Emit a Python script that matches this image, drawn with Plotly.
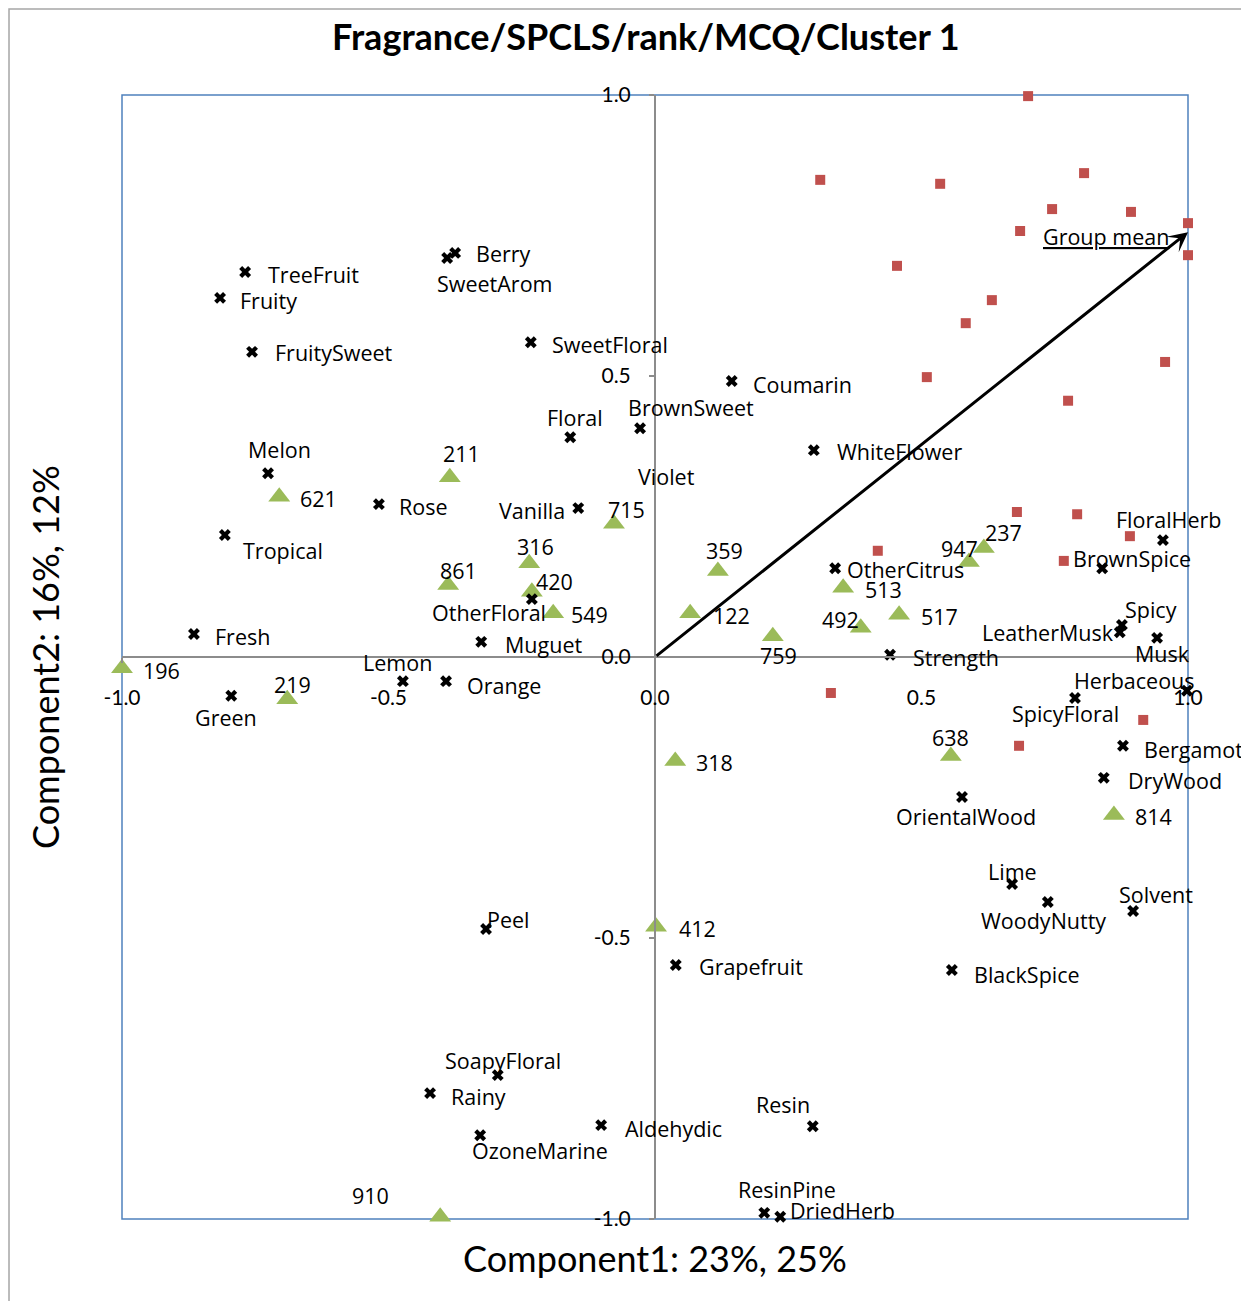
import plotly.graph_objects as go

# ---------------- data ----------------
feature_names = ["TreeFruit", "Fruity", "FruitySweet", "Berry", "SweetArom", "SweetFloral",
                 "Floral", "BrownSweet", "Coumarin", "WhiteFlower", "Melon", "Rose",
                 "Tropical", "Vanilla", "OtherFloral", "Fresh", "Muguet", "Lemon", "Orange",
                 "Green", "OtherCitrus", "Strength", "FloralHerb", "BrownSpice", "Spicy",
                 "LeatherMusk", "Musk", "Herbaceous", "SpicyFloral", "Bergamot", "DryWood",
                 "OrientalWood", "Lime", "WoodyNutty", "Solvent", "BlackSpice", "Peel",
                 "Grapefruit", "SoapyFloral", "Rainy", "OzoneMarine", "Aldehydic", "Resin",
                 "ResinPine", "DriedHerb"]
feature_x = [-0.769, -0.816, -0.756, -0.375, -0.390, -0.233, -0.159, -0.028, 0.144, 0.298,
             -0.726, -0.518, -0.807, -0.144, -0.231, -0.865, -0.326, -0.473, -0.392, -0.795,
             0.338, 0.441, 0.953, 0.839, 0.876, 0.872, 0.942, 0.998, 0.788, 0.878, 0.842,
             0.576, 0.670, 0.737, 0.897, 0.557, -0.317, 0.039, -0.295, -0.422, -0.328,
             -0.101, 0.296, 0.205, 0.235]
feature_y = [0.685, 0.639, 0.543, 0.719, 0.710, 0.560, 0.391, 0.407, 0.491, 0.368,
             0.327, 0.272, 0.217, 0.265, 0.103, 0.041, 0.027, -0.043, -0.043, -0.069,
             0.158, 0.004, 0.208, 0.158, 0.057, 0.044, 0.034, -0.060, -0.073, -0.158, -0.215,
             -0.249, -0.404, -0.436, -0.452, -0.557, -0.484, -0.548, -0.744, -0.776, -0.851,
             -0.833, -0.835, -0.989, -0.996]

# label shown without a visible marker
violet_name = "Violet"
violet_x = 0.021
violet_y = 0.322

consumer_ids = ["211", "621", "715", "316", "861", "420", "549", "359", "122", "759",
                "513", "492", "517", "947", "237", "196", "219", "318", "638", "814",
                "412", "910"]
consumer_x = [-0.385, -0.705, -0.077, -0.236, -0.388, -0.231, -0.191, 0.118, 0.066, 0.221,
              0.353, 0.386, 0.458, 0.589, 0.617, -1.0, -0.690, 0.038, 0.555, 0.861,
              0.002, -0.403]
consumer_y = [0.320, 0.285, 0.237, 0.167, 0.128, 0.116, 0.078, 0.153, 0.078, 0.037,
              0.123, 0.052, 0.075, 0.169, 0.194, -0.020, -0.075, -0.185, -0.176, -0.281,
              -0.480, -0.996]

product_x = [0.700, 0.310, 0.535, 0.805, 0.745, 0.893, 1.000, 0.685, 1.000, 0.454, 0.632,
             0.583, 0.957, 0.510, 0.775, 0.679, 0.792, 0.891, 0.418, 0.767, 0.330, 0.916,
             0.683]
product_y = [0.998, 0.849, 0.842, 0.861, 0.797, 0.792, 0.772, 0.758, 0.715, 0.696, 0.635,
             0.594, 0.525, 0.498, 0.456, 0.258, 0.254, 0.215, 0.189, 0.171, -0.064, -0.112,
             -0.158]

group_mean_label = "Group mean"
group_mean_x = 1.0
group_mean_y = 0.756

axis_ticks = [-1.0, -0.5, 0.0, 0.5, 1.0]
axis_tick_text = ["-1.0", "-0.5", "0.0", "0.5", "1.0"]

title_text = "Fragrance/SPCLS/rank/MCQ/Cluster 1"
x_title = "Component1: 23%, 25%"
y_title = "Component2: 16%, 12%"

# ---------------- styles / label placement (pixel shifts) ----------------
FEATURE_SHIFT = {
    "TreeFruit": (68, -2), "Fruity": (48, -3), "FruitySweet": (82, -1), "Berry": (48, -1),
    "SweetArom": (47, -26), "SweetFloral": (79, -2), "Floral": (5, 20), "BrownSweet": (51, 21),
    "Coumarin": (71, -3), "WhiteFlower": (86, -1), "Melon": (11, 24), "Rose": (45, -2),
    "Tropical": (58, -15), "Vanilla": (-46, -2), "OtherFloral": (-43, -13), "Fresh": (49, -3),
    "Muguet": (62, -3), "Lemon": (-5, 19), "Orange": (58, -4), "Green": (-5, -22),
    "OtherCitrus": (70, -1), "Strength": (66, -3), "FloralHerb": (6, 21), "BrownSpice": (30, 10),
    "Spicy": (29, 15), "LeatherMusk": (-72, 0), "Musk": (5, -16), "Herbaceous": (-52, 10),
    "SpicyFloral": (-10, -15), "Bergamot": (71, -4), "DryWood": (71, -3),
    "OrientalWood": (4, -20), "Lime": (0, 13), "WoodyNutty": (-4, -18), "Solvent": (23, 17),
    "BlackSpice": (75, -4), "Peel": (22, 10), "Grapefruit": (75, -2), "SoapyFloral": (5, 15),
    "Rainy": (48, -3), "OzoneMarine": (60, -15), "Aldehydic": (72, -3), "Resin": (-30, 22),
    "ResinPine": (23, 23), "DriedHerb": (62, 6),
}
CONSUMER_SHIFT = {
    "211": (12, 24), "621": (39, -2), "715": (13, 14), "316": (6, 17), "861": (10, 15),
    "420": (23, 10), "549": (36, -1), "359": (7, 21), "122": (41, -2), "759": (6, -19),
    "513": (40, -2), "492": (-20, 8), "517": (40, -2), "947": (-9, 14), "237": (20, 15),
    "196": (39, -2), "219": (5, 15), "318": (39, -2), "638": (0, 18), "814": (40, -2),
    "412": (41, -2), "910": (-70, 21),
}

LABEL_FONT = dict(family="Open Sans, Noto Sans, sans-serif", size=21.5, color="black")
TICK_FONT = dict(family="Lato, Noto Sans, sans-serif", size=21, color="black")
GREEN = "#9BBB59"
RED = "#C0504D"
BLUE = "#4F81BD"
GRAY = "#8C8C8C"

fig = go.Figure()

fig.add_trace(go.Scatter(
    x=product_x, y=product_y, mode="markers",
    marker=dict(symbol="square", size=10, color=RED),
    cliponaxis=False, showlegend=False, hoverinfo="skip"))

fig.add_trace(go.Scatter(
    x=consumer_x, y=consumer_y, mode="markers",
    marker=dict(symbol="triangle-up", size=19, color=GREEN),
    cliponaxis=False, showlegend=False, text=consumer_ids))

fig.add_trace(go.Scatter(
    x=feature_x, y=feature_y, mode="markers",
    marker=dict(symbol="x", size=10.5, color="black", line=dict(width=0)),
    cliponaxis=False, showlegend=False, text=feature_names))

annotations = []
for n, xv, yv in zip(feature_names, feature_x, feature_y):
    dx, dy = FEATURE_SHIFT[n]
    annotations.append(dict(x=xv, y=yv, xref="x", yref="y", text=n, showarrow=False,
                            xshift=dx, yshift=dy, font=LABEL_FONT))
for n, xv, yv in zip(consumer_ids, consumer_x, consumer_y):
    dx, dy = CONSUMER_SHIFT[n]
    annotations.append(dict(x=xv, y=yv, xref="x", yref="y", text=n, showarrow=False,
                            xshift=dx, yshift=dy, font=LABEL_FONT))
annotations.append(dict(x=violet_x, y=violet_y, xref="x", yref="y", text=violet_name,
                        showarrow=False, font=LABEL_FONT))

# group mean arrow from origin
annotations.append(dict(x=group_mean_x, y=group_mean_y, xref="x", yref="y",
                        ax=0, ay=0, axref="x", ayref="y", text="", showarrow=True,
                        arrowhead=3, arrowsize=1.1, arrowwidth=3, arrowcolor="black"))
annotations.append(dict(x=group_mean_x, y=group_mean_y, xref="x", yref="y",
                        text="<u>" + group_mean_label + "</u>", showarrow=False,
                        xshift=-82, yshift=-4, font=LABEL_FONT))

# titles
annotations.append(dict(x=0.5, y=1.0, xref="paper", yref="paper", yshift=59, xshift=-9,
                        xanchor="center", yanchor="middle",
                        text="<b>" + title_text + "</b>", showarrow=False,
                        font=dict(family="Lato, sans-serif", size=36, color="black")))
annotations.append(dict(x=0.5, y=0.0, xref="paper", yref="paper", yshift=-39,
                        xanchor="center", yanchor="middle",
                        text=x_title, showarrow=False,
                        font=dict(family="Lato, sans-serif", size=36, color="black")))
annotations.append(dict(x=0.0, y=0.5, xref="paper", yref="paper", xshift=-77,
                        xanchor="center", yanchor="middle",
                        text=y_title, showarrow=False, textangle=-90,
                        font=dict(family="Lato, sans-serif", size=36, color="black")))

shapes = [
    dict(type="rect", xref="paper", yref="paper", x0=0, y0=0, x1=1, y1=1,
         line=dict(color=BLUE, width=1.5), layer="below"),
    dict(type="rect", xref="paper", yref="paper", x0=-0.106, y0=-0.1, x1=1.2, y1=1.0765,
         line=dict(color="#A6A6A6", width=1.5), layer="below"),
]

fig.update_layout(
    width=1241, height=1293,
    margin=dict(l=114, r=61, t=87, b=82),
    paper_bgcolor="white", plot_bgcolor="white",
    showlegend=False,
    annotations=annotations, shapes=shapes,
    xaxis=dict(range=[-1, 1], anchor="free", position=0.5, showgrid=False, zeroline=False,
               showline=True, linecolor=GRAY, linewidth=2,
               tickvals=axis_ticks, ticktext=axis_tick_text, ticks="outside", ticklen=5,
               tickcolor=GRAY, tickwidth=1.5, tickfont=TICK_FONT, ticklabelstandoff=17),
    yaxis=dict(range=[-1, 1], anchor="free", position=0.5, showgrid=False, zeroline=False,
               showline=True, linecolor=GRAY, linewidth=2,
               tickvals=axis_ticks, ticktext=axis_tick_text, ticks="outside", ticklen=5,
               tickcolor=GRAY, tickwidth=1.5, tickfont=TICK_FONT, ticklabelstandoff=14),
)

fig.write_html("out.html")
